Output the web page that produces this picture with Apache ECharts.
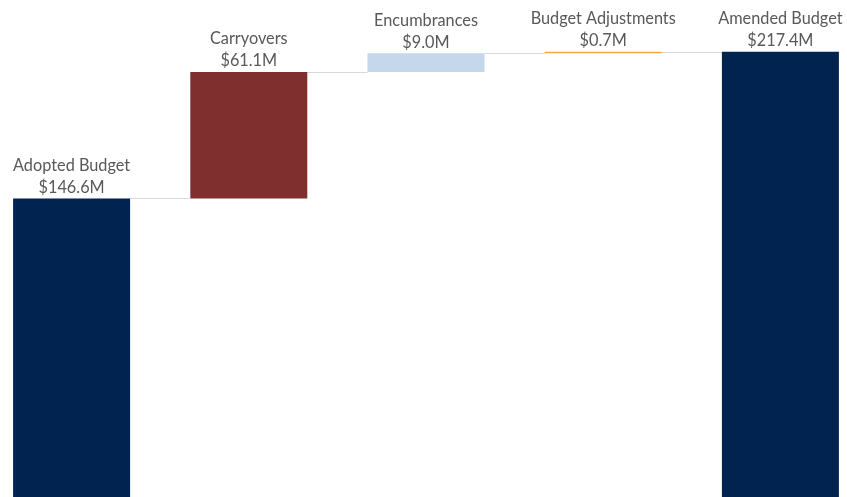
<!DOCTYPE html>
<html>
<head>
<meta charset="utf-8">
<script src="https://cdn.jsdelivr.net/npm/echarts@6/dist/echarts.min.js"></script>
<style>
html,body{margin:0;padding:0;background:#fff;overflow:hidden;width:847px;height:497px;position:relative;}
#chart{position:absolute;left:-17px;top:0;width:886px;height:502px;}
</style>
</head>
<body>
<div id="chart"></div>
<script>
const categories = ['Adopted Budget', 'Carryovers', 'Encumbrances', 'Budget Adjustments', 'Amended Budget'];
const values = [146.6, 61.1, 9.0, 0.7, 217.4];
const isTotal = [true, false, false, false, true];
const colors = ['#00234F', '#7F2F2D', '#C5D7EA', '#F4A73E', '#00234F'];

// derive invisible base and connector levels from values
const bases = [];
const tops = [];
let running = 0;
values.forEach((v, i) => {
  if (isTotal[i]) { bases.push(0); running = v; }
  else { bases.push(running); running += v; }
  tops.push(running);
});
const connectors = [];
for (let i = 0; i < values.length - 1; i++) connectors.push([i, tops[i]]);

const BAR_W = 117;
const chart = echarts.init(document.getElementById('chart'), null, {renderer: 'canvas'});
chart.setOption({
  animation: false,
  grid: {left: 0, right: 0, top: 5, bottom: 0, containLabel: false},
  xAxis: {
    type: 'category', data: categories,
    axisLine: {show: false}, axisTick: {show: false}, axisLabel: {show: false}, splitLine: {show: false}
  },
  yAxis: {
    type: 'value', min: 0, max: 240,
    axisLine: {show: false}, axisTick: {show: false}, axisLabel: {show: false}, splitLine: {show: false}
  },
  series: [
    {
      type: 'custom',
      data: connectors,
      z: 1,
      renderItem: function (params, api) {
        const i = api.value(0), lv = api.value(1);
        const p1 = api.coord([i, lv]);
        const p2 = api.coord([i + 1, lv]);
        return {
          type: 'line',
          shape: {x1: p1[0] + BAR_W / 2, y1: Math.round(p1[1]) + 0.5, x2: p2[0] - BAR_W / 2, y2: Math.round(p1[1]) + 0.5},
          style: {stroke: '#D9D9D9', lineWidth: 1}
        };
      }
    },
    {
      type: 'bar', stack: 'w', barWidth: BAR_W, z: 2,
      itemStyle: {color: 'transparent'},
      data: bases,
      silent: true
    },
    {
      type: 'bar', stack: 'w', barWidth: BAR_W, z: 3,
      data: values.map((v, i) => ({value: v, itemStyle: {color: colors[i]}})),
      label: {
        show: true, position: 'top', distance: 0,
        fontFamily: 'Lato', fontSize: 16.3, color: '#595959', lineHeight: 22, align: 'center',
        formatter: p => p.name + '\n$' + p.value.toFixed(1) + 'M'
      }
    }
  ]
});
</script>
</body>
</html>
